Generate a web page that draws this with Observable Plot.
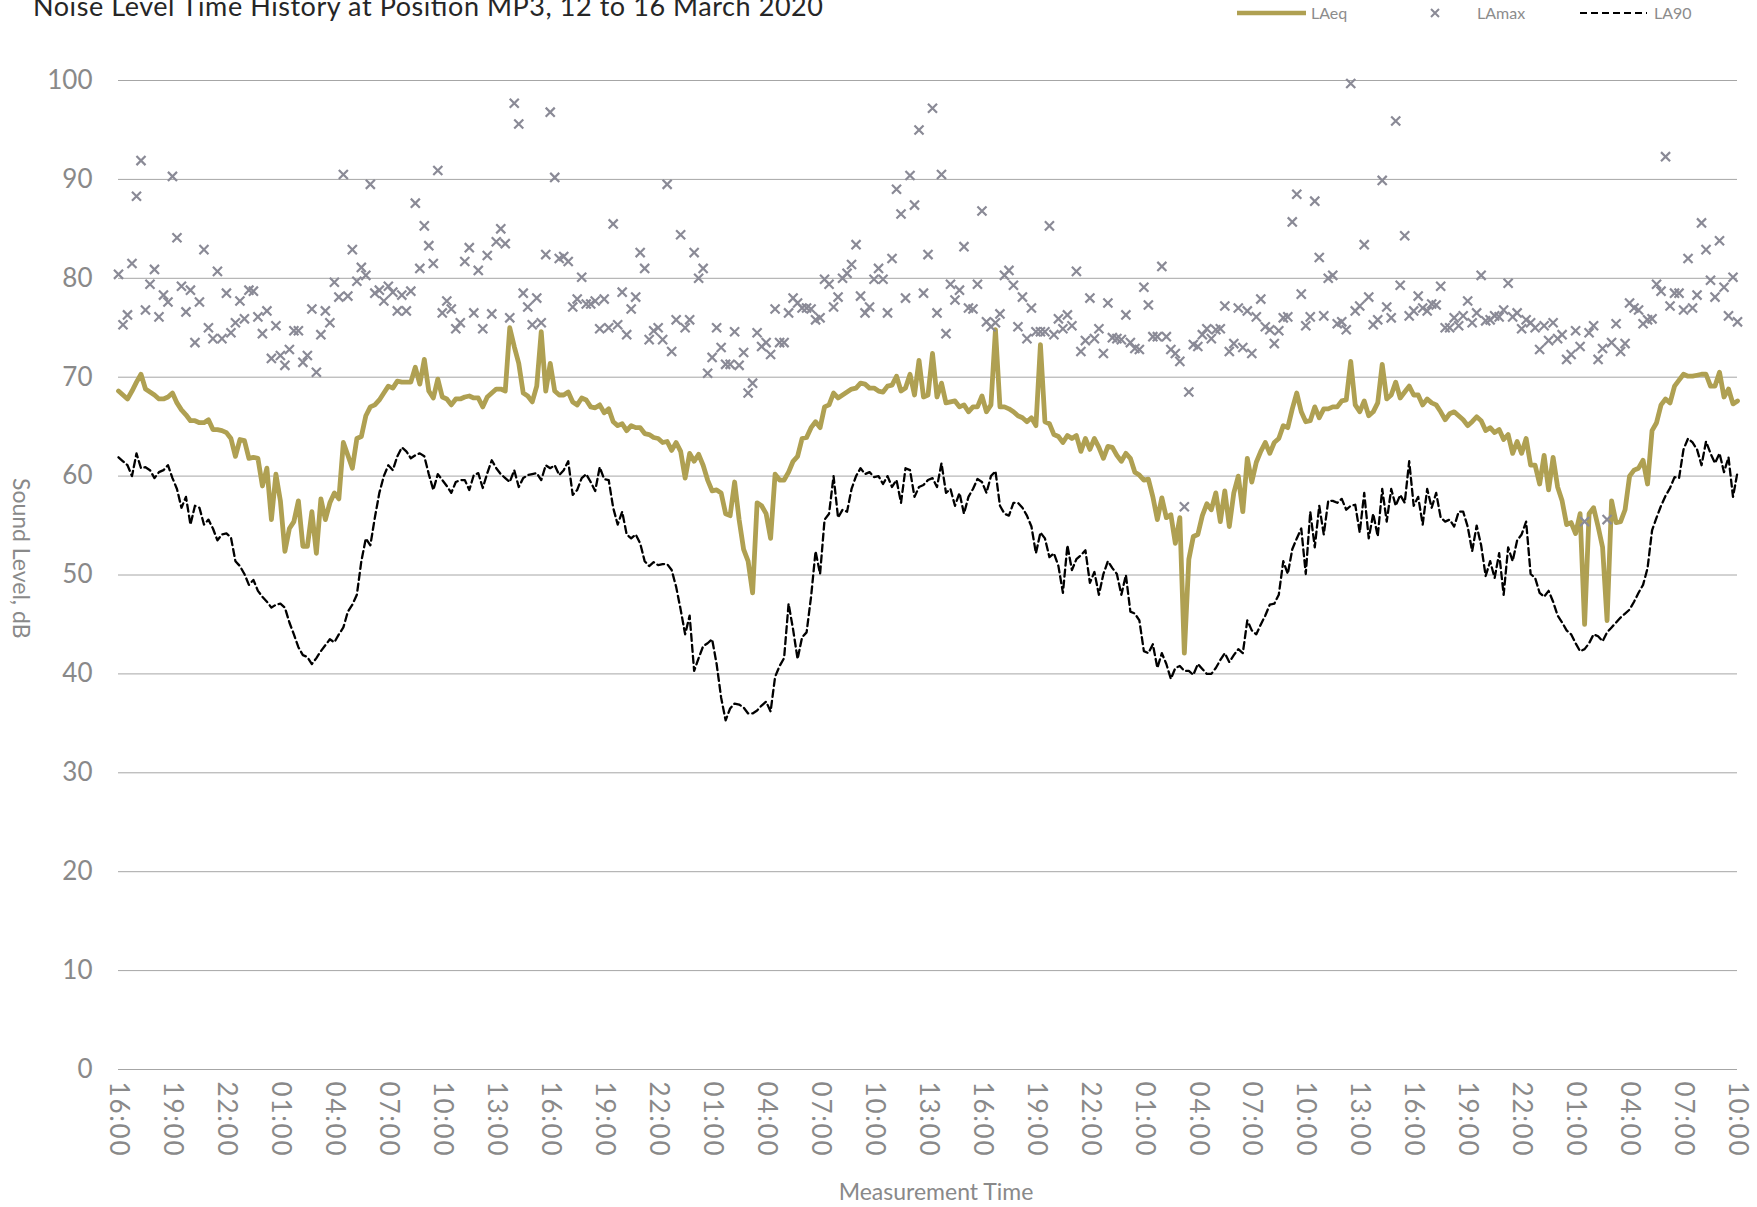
<!DOCTYPE html>
<html>
<head>
<meta charset="utf-8">
<script src="https://cdn.jsdelivr.net/npm/d3@7"></script>
<script src="https://cdn.jsdelivr.net/npm/@observablehq/plot@0.6"></script>
<style>
  html, body { margin: 0; padding: 0; background: #ffffff; }
  #wrap { position: relative; width: 1757px; height: 1207px; overflow: hidden; font-family: Lato, "Open Sans", sans-serif; }
  #chart { position: absolute; left: 0; top: 0; }
  #overlay { position: absolute; left: 0; top: 0; }
  #chart g[aria-label="x-axis tick label"] text { letter-spacing: 1.8px; }
</style>
</head>
<body>
<div id="wrap">
  <div id="chart"></div>
  <svg id="overlay" width="1757" height="40" font-family="Lato, 'Open Sans', sans-serif">
    <text x="33" y="16" font-size="27" fill="#262626" textLength="790" lengthAdjust="spacing">Noise Level Time History at Position MP3, 12 to 16 March 2020</text>
    <line x1="1237" y1="13" x2="1306" y2="13" stroke="#afa052" stroke-width="4.5"></line>
    <text x="1311" y="19" font-size="16" fill="#8c8c8c">LAeq</text>
    <path d="M1431,9L1439,17M1431,17L1439,9" stroke="#8a8a96" stroke-width="2" fill="none"></path>
    <text x="1477" y="19" font-size="16" fill="#8c8c8c">LAmax</text>
    <line x1="1580" y1="13" x2="1647" y2="13" stroke="#000" stroke-width="2.2" stroke-dasharray="7,4"></line>
    <text x="1654" y="19" font-size="16" fill="#8c8c8c">LA90</text>
  </svg>
</div>
<script>
// Measurement period: 15-minute intervals from 16:00 12 March 2020 to 10:00 16 March 2020
const startTime = Date.UTC(2020, 2, 12, 16, 0);
const stepMinutes = 15;
const tickEveryHours = 3;

const laeq = [
  68.6, 68.2, 67.8, 68.6, 69.5, 70.3, 68.8, 68.5, 68.2, 67.8, 67.8, 68.0, 68.4, 67.4, 66.7, 66.2, 65.6, 65.6, 65.4, 65.4, 65.7, 64.7, 64.7, 64.6, 64.4, 63.8, 62.0, 63.7, 63.6, 61.8,
  61.9, 61.8, 59.0, 60.8, 55.6, 60.2, 57.5, 52.4, 54.7, 55.4, 57.5, 52.9, 52.9, 56.4, 52.2, 57.7, 55.6, 57.3, 58.3, 57.7, 63.4, 62.1, 60.8, 63.8, 64.0, 66.1, 67.0, 67.2, 67.7, 68.4,
  69.1, 68.9, 69.6, 69.5, 69.5, 69.5, 71.0, 69.3, 71.8, 68.6, 67.9, 69.8, 68.0, 67.8, 67.2, 67.8, 67.8, 68.0, 68.1, 67.9, 67.9, 67.0, 68.0, 68.4, 68.8, 68.8, 68.6, 75.0, 73.1, 71.4,
  68.4, 68.1, 67.5, 69.1, 74.6, 68.6, 71.4, 68.6, 68.2, 68.2, 68.5, 67.5, 67.2, 67.9, 67.7, 67.0, 66.9, 67.2, 66.4, 66.8, 65.5, 65.1, 65.3, 64.6, 65.1, 64.9, 64.9, 64.3, 64.2, 63.9,
  63.8, 63.4, 63.5, 62.6, 63.4, 62.5, 59.8, 62.3, 61.5, 62.2, 61.1, 59.6, 58.5, 58.6, 58.3, 56.2, 56.0, 59.4, 55.6, 52.6, 51.4, 48.2, 57.3, 57.0, 56.2, 53.7, 60.2, 59.6, 59.6, 60.4,
  61.5, 62.0, 63.8, 63.9, 64.9, 65.5, 64.9, 67.0, 67.2, 68.4, 67.9, 68.2, 68.5, 68.8, 68.9, 69.4, 69.3, 68.9, 68.9, 68.6, 68.5, 69.1, 69.2, 70.1, 68.6, 68.9, 70.3, 68.2, 71.7, 68.0,
  68.2, 72.4, 68.0, 69.4, 67.4, 67.5, 67.6, 67.0, 67.2, 66.5, 67.0, 67.0, 68.1, 66.5, 67.2, 74.8, 67.0, 67.0, 66.8, 66.5, 66.1, 65.9, 65.5, 65.9, 65.1, 73.3, 65.5, 65.3, 64.2, 64.0,
  63.4, 64.1, 63.8, 64.1, 62.5, 63.8, 62.7, 63.8, 62.9, 61.8, 63.0, 62.9, 62.1, 61.5, 62.3, 61.8, 60.4, 60.1, 59.6, 59.7, 57.9, 55.6, 57.8, 55.8, 56.1, 53.2, 55.8, 42.1, 51.6, 53.9,
  54.1, 56.0, 57.2, 56.6, 58.3, 55.4, 58.5, 54.9, 58.3, 60.0, 56.4, 61.8, 59.4, 61.4, 62.5, 63.4, 62.3, 63.4, 63.8, 65.1, 64.9, 66.8, 68.4, 66.5, 65.5, 65.6, 67.0, 65.9, 66.8, 66.8,
  67.0, 67.0, 67.6, 67.7, 71.6, 67.2, 66.5, 67.6, 66.1, 66.5, 67.4, 71.3, 67.8, 68.2, 69.5, 67.9, 68.5, 69.1, 68.2, 68.2, 67.2, 67.8, 67.4, 67.2, 66.5, 65.7, 66.3, 66.5, 66.1, 65.7,
  65.1, 65.5, 66.0, 65.6, 64.6, 64.9, 64.4, 64.7, 63.7, 64.2, 62.3, 63.5, 62.3, 63.8, 61.1, 61.1, 59.2, 62.1, 58.6, 61.9, 58.9, 57.5, 55.1, 55.3, 54.2, 56.2, 45.0, 56.2, 56.8, 54.9,
  52.8, 45.4, 57.5, 55.3, 55.4, 56.6, 60.0, 60.6, 60.8, 61.6, 59.2, 64.6, 65.4, 67.2, 67.8, 67.4, 69.1, 69.7, 70.3, 70.1, 70.1, 70.2, 70.3, 70.3, 69.1, 69.1, 70.5, 68.0, 68.8, 67.3, 67.6
];

const lamax = [
  80.4, 75.3, 76.3, 81.5, 88.3, 91.9, 76.8, 79.4, 80.9, 76.1, 78.3, 77.6, 90.3, 84.1, 79.2, 76.6, 78.8, 73.5, 77.6, 82.9, 75.0, 73.9, 80.7, 73.9, 78.5, 74.5, 75.5, 77.7, 75.9, 78.8,
  78.7, 76.1, 74.4, 76.7, 71.9, 75.2, 72.2, 71.2, 72.8, 74.7, 74.7, 71.5, 72.2, 76.9, 70.5, 74.3, 76.7, 75.5, 79.6, 78.1, 90.5, 78.2, 82.9, 79.7, 81.1, 80.3, 89.5, 78.5, 78.8, 77.7,
  79.2, 78.6, 76.7, 78.3, 76.7, 78.7, 87.6, 81.0, 85.3, 83.3, 81.5, 90.9, 76.5, 77.7, 76.9, 74.9, 75.5, 81.7, 83.1, 76.5, 80.8, 74.9, 82.3, 76.4, 83.7, 85.0, 83.5, 76.0, 97.7, 95.6,
  78.5, 77.1, 75.3, 78.0, 75.5, 82.4, 96.8, 90.2, 82.0, 82.2, 81.7, 77.1, 77.9, 80.1, 77.4, 77.4, 77.7, 74.9, 77.9, 75.0, 85.5, 75.3, 78.6, 74.3, 76.9, 78.1, 82.6, 81.0, 73.8, 74.7,
  75.0, 73.8, 89.5, 72.6, 75.8, 84.4, 75.0, 75.8, 82.6, 80.0, 81.0, 70.4, 72.0, 75.0, 73.0, 71.3, 71.3, 74.6, 71.2, 72.5, 68.4, 69.4, 74.5, 73.1, 73.5, 72.3, 76.9, 73.5, 73.5, 76.5,
  78.0, 77.5, 77.0, 77.0, 76.9, 75.8, 76.0, 79.9, 79.4, 77.1, 78.1, 80.0, 80.5, 81.4, 83.4, 78.2, 76.5, 77.1, 79.9, 81.0, 79.9, 76.5, 82.0, 89.0, 86.5, 78.0, 90.4, 87.4, 95.0, 78.5,
  82.4, 97.2, 76.5, 90.5, 74.4, 79.4, 77.8, 78.8, 83.2, 77.0, 76.9, 79.4, 86.8, 75.6, 75.1, 75.5, 76.4, 80.3, 80.8, 79.3, 75.1, 78.1, 73.9, 77.0, 74.6, 74.6, 74.6, 85.3, 74.3, 75.9,
  74.9, 76.3, 75.2, 80.7, 72.6, 73.7, 78.0, 73.9, 74.9, 72.4, 77.5, 74.0, 73.9, 73.8, 76.3, 73.5, 72.9, 72.8, 79.1, 77.3, 74.1, 74.1, 81.2, 74.1, 72.8, 72.4, 71.6, 56.9, 68.5, 73.3,
  73.1, 74.3, 74.9, 73.9, 74.8, 74.9, 77.2, 72.6, 73.4, 77.0, 73.0, 76.7, 72.4, 76.1, 77.9, 75.1, 74.8, 73.4, 74.7, 76.0, 76.1, 85.7, 88.5, 78.4, 75.2, 76.1, 87.8, 82.1, 76.2, 80.0,
  80.3, 75.4, 75.6, 74.8, 99.7, 76.7, 77.2, 83.4, 78.1, 75.3, 75.8, 89.9, 77.1, 76.0, 95.9, 79.3, 84.3, 76.2, 76.7, 78.2, 77.0, 76.7, 77.4, 77.3, 79.2, 75.0, 75.0, 76.0, 75.2, 76.2,
  77.7, 75.5, 76.5, 80.3, 75.7, 75.8, 76.2, 76.1, 76.8, 79.5, 76.1, 76.5, 74.9, 75.8, 75.5, 75.0, 72.8, 75.2, 73.7, 75.5, 73.9, 74.3, 71.8, 72.3, 74.7, 73.1, 55.4, 74.5, 75.2, 71.8,
  72.9, 55.6, 73.5, 75.4, 72.6, 73.4, 77.5, 77.0, 76.8, 75.4, 75.8, 75.9, 79.4, 78.7, 92.3, 77.2, 78.5, 78.5, 76.8, 82.0, 77.0, 78.3, 85.6, 82.9, 79.8, 78.1, 83.8, 79.1, 76.2, 80.1, 75.6
];

const la90 = [
  61.9, 61.5, 61.1, 60.0, 62.3, 60.8, 60.9, 60.6, 59.8, 60.4, 60.6, 61.1, 59.8, 58.7, 56.8, 57.9, 55.1, 57.0, 56.8, 55.1, 55.6, 54.7, 53.5, 54.1, 54.2, 53.8, 51.4, 50.9, 50.1, 49.0,
  49.5, 48.4, 47.8, 47.3, 46.7, 47.0, 47.1, 46.7, 45.2, 44.0, 42.7, 41.9, 41.7, 41.0, 41.6, 42.3, 42.9, 43.5, 43.2, 44.0, 44.7, 46.3, 47.0, 48.0, 51.4, 53.7, 53.0, 55.8, 58.3, 60.0,
  61.1, 60.6, 62.0, 62.9, 62.5, 61.8, 62.1, 62.3, 62.0, 60.2, 58.6, 60.2, 59.6, 59.0, 58.3, 59.4, 59.6, 59.6, 58.6, 60.1, 60.3, 58.8, 60.3, 61.6, 60.8, 60.2, 59.8, 59.4, 60.6, 58.9,
  59.8, 60.1, 60.2, 60.3, 59.6, 61.1, 60.8, 61.1, 60.1, 60.6, 61.5, 58.1, 58.6, 59.8, 60.2, 59.4, 58.5, 60.9, 59.7, 59.6, 56.8, 55.1, 56.4, 54.1, 53.7, 54.1, 53.2, 51.4, 50.9, 51.3,
  51.0, 51.1, 51.1, 50.5, 48.8, 46.5, 44.0, 45.9, 40.3, 41.6, 42.8, 43.1, 43.5, 41.0, 37.6, 35.3, 36.5, 37.0, 36.9, 36.6, 36.0, 36.0, 36.3, 36.8, 37.2, 36.2, 39.7, 40.8, 41.6, 47.1,
  44.5, 41.5, 43.7, 44.2, 47.8, 52.4, 50.1, 55.6, 56.2, 60.0, 55.8, 56.6, 56.4, 58.7, 60.0, 60.8, 60.2, 60.4, 59.9, 60.0, 59.2, 60.0, 58.9, 59.6, 57.3, 60.8, 60.6, 57.9, 58.9, 59.1,
  59.6, 59.8, 58.9, 61.3, 58.3, 58.7, 57.0, 58.3, 56.2, 57.9, 58.7, 59.7, 59.4, 58.3, 60.0, 60.5, 57.0, 56.2, 56.0, 57.3, 57.3, 56.8, 56.0, 54.9, 52.2, 54.3, 53.7, 51.8, 52.2, 50.9,
  48.2, 53.0, 50.5, 51.6, 52.0, 52.5, 49.2, 50.3, 48.0, 50.1, 51.4, 50.7, 50.1, 48.0, 50.0, 46.3, 46.1, 45.4, 42.3, 42.1, 43.0, 40.6, 42.1, 41.0, 39.5, 40.6, 40.8, 40.3, 40.3, 39.9,
  41.0, 40.5, 40.0, 40.0, 40.6, 41.4, 42.1, 41.2, 41.9, 42.5, 42.1, 45.4, 44.4, 44.0, 45.0, 45.9, 47.0, 47.1, 48.0, 51.4, 50.1, 52.6, 53.7, 54.7, 50.1, 56.4, 52.8, 57.0, 54.1, 57.5,
  57.5, 57.3, 57.7, 56.6, 57.0, 57.1, 54.3, 58.3, 53.7, 56.2, 53.9, 58.7, 55.4, 58.7, 57.0, 58.1, 57.3, 61.5, 57.0, 57.9, 55.1, 58.7, 56.8, 58.3, 55.8, 55.4, 55.6, 54.9, 56.4, 56.4,
  54.9, 52.4, 55.0, 53.0, 49.9, 51.4, 49.7, 52.2, 48.0, 52.8, 51.4, 53.5, 54.1, 55.4, 50.1, 49.7, 48.2, 47.8, 48.4, 47.3, 45.9, 45.2, 44.4, 44.0, 43.1, 42.3, 42.5, 43.1, 44.0, 43.8,
  43.3, 44.2, 44.7, 45.2, 45.7, 46.1, 46.5, 47.3, 48.2, 49.0, 50.7, 54.5, 55.8, 57.0, 58.0, 58.8, 59.9, 59.8, 62.7, 63.8, 63.4, 62.7, 61.1, 63.5, 62.3, 61.3, 62.3, 60.4, 61.9, 57.9, 60.4
];

const yTicks = [0, 10, 20, 30, 40, 50, 60, 70, 80, 90, 100];

// Build records
const times = laeq.map((_, i) => new Date(startTime + i * stepMinutes * 60000));
const endTime = times[times.length - 1];
const totalHours = (endTime - startTime) / 3600000;
const xTicks = d3.range(0, totalHours + 0.001, tickEveryHours).map(h => new Date(startTime + h * 3600000));
const rows = times.map((t, i) => ({time: t, laeq: laeq[i], lamax: lamax[i], la90: la90[i]}));

const grey = "#898989";
const chart = Plot.plot({
  width: 1757,
  height: 1207,
  marginLeft: 118,
  marginRight: 20,
  marginTop: 80,
  marginBottom: 138,
  style: {fontFamily: "Lato, 'Open Sans', sans-serif", background: "#ffffff", overflow: "visible"},
  x: {type: "utc", domain: [new Date(startTime), endTime]},
  y: {domain: [0, 100]},
  marks: [
    Plot.gridY(yTicks, {stroke: "#a6a6a6", strokeOpacity: 1, strokeWidth: 1}),
    Plot.axisY(yTicks, {tickSize: 0, tickPadding: 26, fontSize: 26, color: grey, label: null}),
    Plot.axisX(xTicks, {tickSize: 0, tickPadding: 12, tickRotate: 90, fontSize: 26, color: grey, label: null, tickFormat: d3.utcFormat("%H:%M")}),
    Plot.line(rows, {x: "time", y: "laeq", stroke: "#afa052", strokeWidth: 4.8, strokeLinejoin: "round"}),
    Plot.dot(rows, {x: "time", y: "lamax", symbol: "times", r: 4.2, stroke: "#8a8a96", strokeWidth: 2.2}),
    Plot.line(rows, {x: "time", y: "la90", stroke: "#000000", strokeWidth: 2.3, strokeDasharray: "7,4"}),
    Plot.text(["Sound Level, dB"], {frameAnchor: "left", dx: -98, dy: -97, rotate: 90, fontSize: 23, fill: grey}),
    Plot.text(["Measurement Time"], {frameAnchor: "bottom", dx: 8, dy: 130, fontSize: 23, fill: grey})
  ]
});
document.getElementById("chart").appendChild(chart);
</script>
</body>
</html>
